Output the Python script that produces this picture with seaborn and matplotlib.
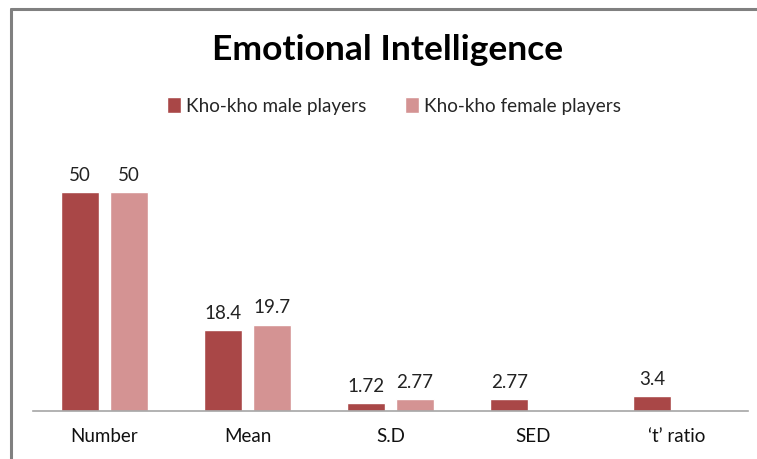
import matplotlib
matplotlib.use('Agg')
import matplotlib.pyplot as plt
import pandas as pd
import seaborn as sns
from matplotlib.lines import Line2D

# data
categories = ['Number', 'Mean', 'S.D', 'SED', '\u2018t\u2019 ratio']
male = [50, 18.4, 1.72, 2.77, 3.4]
female = [50, 19.7, 2.77, None, None]
series_names = ['Kho-kho male players', 'Kho-kho female players']
colors = ['#A94747', '#D49393']

df = pd.DataFrame({
    'stat': categories * 2,
    'value': male + female,
    'group': [series_names[0]] * len(categories) + [series_names[1]] * len(categories),
})

sns.set_style('white')
plt.rcParams['font.family'] = ['Lato', 'DejaVu Sans']

fig = plt.figure(figsize=(7.57, 4.59), dpi=100)
ax = fig.add_axes([33 / 757, 48 / 459, 715 / 757, 263 / 459])

sns.barplot(data=df, x='stat', y='value', hue='group', order=categories,
            hue_order=series_names, palette=colors, width=0.68, gap=0.23,
            saturation=1, ax=ax, legend=True)

for cont in ax.containers:
    labels = ['' if pd.isna(v) else f'{v:g}' for v in cont.datavalues]
    ax.bar_label(cont, labels=labels, padding=6, fontsize=13.5, color='#222222')

ax.set_ylim(0, 60)
ax.set_xlabel('')
ax.set_ylabel('')
ax.set_yticks([])
ax.tick_params(axis='x', length=0, pad=12, labelsize=13.5, labelcolor='#111111')
for side in ['left', 'right', 'top']:
    ax.spines[side].set_visible(False)
ax.spines['bottom'].set_color('#A6A6A6')
ax.spines['bottom'].set_linewidth(1.2)

handles, labels = ax.get_legend_handles_labels()
ax.get_legend().remove()
fig.legend(handles, labels, loc='center', bbox_to_anchor=(394 / 757, 1 - 106 / 459),
           ncol=2, frameon=False, fontsize=13.6, handlelength=0.75, handleheight=0.9,
           handletextpad=0.3, columnspacing=2.0)

fig.text(388 / 757, 1 - 50 / 459, 'Emotional Intelligence', ha='center', va='center',
         fontsize=25.5, fontweight='bold', color='black')

# chart frame (left and top edges visible in the reference)
fig.add_artist(Line2D([10.5 / 757, 10.5 / 757], [0, 1 - 8.5 / 459], color='#808080', lw=2.2,
                      transform=fig.transFigure))
fig.add_artist(Line2D([10.5 / 757, 1], [1 - 8.5 / 459, 1 - 8.5 / 459], color='#808080', lw=2.2,
                      transform=fig.transFigure))

fig.savefig('out.png', dpi=100)
